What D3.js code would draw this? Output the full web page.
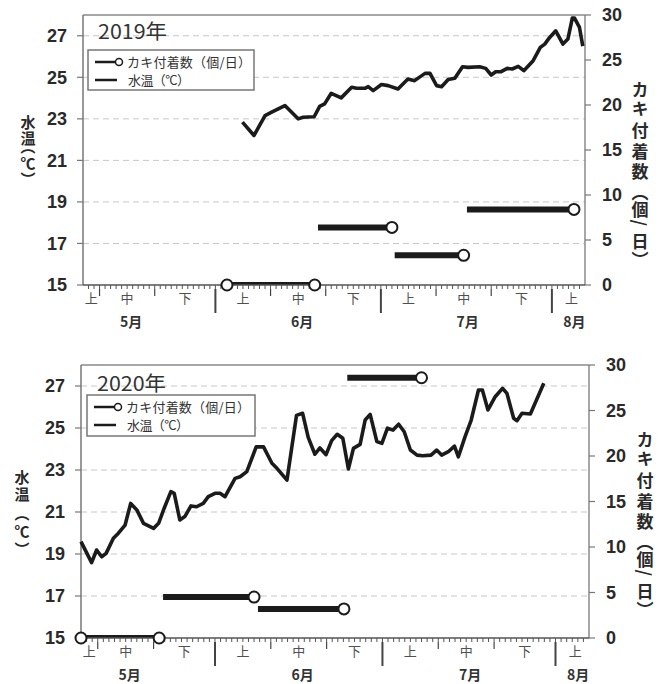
<!DOCTYPE html>
<html><head><meta charset="utf-8">
<script src="https://cdn.jsdelivr.net/npm/d3@7"></script>
<style>
html,body{margin:0;padding:0;background:#fff;}
svg{display:block;}
</style></head><body>
<svg id="chart" width="664" height="684"></svg>
<script>
// ---- data (days counted from May 1 = 0) ----
const leftTicks = [15, 17, 19, 21, 23, 25, 27];
const rightTicks = [0, 5, 10, 15, 20, 25, 30];
const periodLabels = ["上", "中", "下"];
const monthLabels = ["5月", "6月", "7月", "8月"];
const monthStartDays = [0, 31, 61, 92, 123];
const yearTitles = ["2019年", "2020年"];
const legendLabels = ["カキ付着数（個/日）", "水温（°C）"];
const leftTitle = "水温（℃）";
const rightTitle = "カキ付着数（個/日）";

const temp2019Day = [35.9, 38.0, 40.0, 41.2, 43.6, 46.0, 46.9, 48.9, 49.9, 50.8, 52.0, 53.8, 55.7, 56.6, 58.1, 58.7, 59.6, 61.1, 62.3, 64.1, 65.9, 67.1, 69.0, 69.9, 71.1, 72.0, 73.2, 74.4, 75.8, 76.8, 78.9, 80.0, 81.0, 81.8, 82.8, 83.9, 84.8, 85.9, 86.9, 88.6, 89.9, 90.7, 91.6, 92.7, 94.0, 94.9, 95.7, 96.1, 97.0, 97.6];
const temp2019 = [22.84, 22.2, 23.16, 23.32, 23.64, 23.0, 23.08, 23.1, 23.6, 23.72, 24.23, 24.01, 24.52, 24.47, 24.47, 24.55, 24.36, 24.65, 24.6, 24.44, 24.92, 24.84, 25.19, 25.19, 24.6, 24.55, 24.89, 24.95, 25.51, 25.48, 25.51, 25.43, 25.11, 25.27, 25.27, 25.43, 25.40, 25.53, 25.32, 25.80, 26.44, 26.60, 26.92, 27.24, 26.60, 26.84, 27.85, 27.85, 27.4, 26.5];

const temp2020Day = [7.0, 8.9, 9.8, 10.7, 11.5, 12.8, 13.7, 14.9, 15.9, 17.0, 18.2, 20.0, 20.9, 21.9, 23.1, 23.7, 24.7, 25.6, 26.7, 27.7, 28.9, 29.8, 31.0, 31.9, 32.8, 34.6, 35.5, 36.7, 38.4, 39.7, 41.2, 42.1, 43.9, 45.6, 46.7, 47.7, 48.9, 49.8, 50.9, 51.9, 52.9, 53.9, 54.9, 55.8, 57.0, 57.9, 58.8, 60.0, 60.9, 61.9, 62.9, 63.9, 64.9, 66.0, 67.2, 68.2, 69.7, 70.7, 71.6, 72.8, 73.9, 74.6, 75.8, 76.9, 78.2, 78.9, 79.9, 81.2, 82.5, 83.3, 84.5, 85.1, 86.0, 87.5, 89.9];
const temp2020 = [19.59, 18.59, 19.19, 18.87, 19.03, 19.75, 19.99, 20.38, 21.41, 21.1, 20.46, 20.22, 20.46, 21.18, 21.97, 21.89, 20.62, 20.78, 21.29, 21.25, 21.41, 21.73, 21.89, 21.89, 21.73, 22.60, 22.68, 22.92, 24.11, 24.10, 23.32, 23.08, 22.52, 25.6, 25.70, 24.55, 23.75, 24.05, 23.73, 24.4, 24.70, 24.51, 23.05, 24.03, 24.22, 25.38, 25.65, 24.35, 24.27, 24.99, 24.90, 25.18, 24.82, 23.95, 23.71, 23.68, 23.71, 23.95, 23.71, 23.87, 24.14, 23.63, 24.59, 25.38, 26.81, 26.81, 25.86, 26.49, 26.89, 26.65, 25.46, 25.35, 25.70, 25.67, 27.13];

const count2019Start = [33.1, 33.1, 49.6, 63.5, 76.6];
const count2019End   = [33.1, 49.0, 63.0, 76.0, 96.0];
const count2019Val   = [0, 0, 6.4, 3.3, 8.4];

const count2020Start = [7.0, 7.0, 21.7, 38.7, 54.7];
const count2020End   = [7.0, 21.0, 38.0, 54.1, 68.0];
const count2020Val   = [0, 0, 4.5, 3.2, 28.6];

// ---- layout ----
const panels = [
  { title: yearTitles[0], days: temp2019Day, temps: temp2019,
    cS: count2019Start, cE: count2019End, cV: count2019Val,
    left: 83, right: 585, top: 15, bottom: 285,
    legend: {x: 88, y: 50, w: 166, h: 40},
    titleXY: [98, 39],
    lTitle: {x: 28, c: [122, 138, 150, 163, 176]},
    rTitle: {x: 640, c0: 90} },
  { title: yearTitles[1], days: temp2020Day, temps: temp2020,
    cS: count2020Start, cE: count2020End, cV: count2020Val,
    left: 81, right: 589, top: 365, bottom: 638,
    legend: {x: 87, y: 395, w: 168, h: 41},
    titleXY: [97, 391],
    lTitle: {x: 22, c: [477, 494, 517, 531, 546]},
    rTitle: {x: 645, c0: 440} }
];
// glyph-centre offsets of the right title characters (layout)
const rTitleOffsets = [0, 19, 41, 62, 82, 107, 120, 138, 152, 165];
// where the ink of a vertical glyph sits inside its em box (fraction of em from top)
function inkCentre(ch) { return ch === "（" ? 0.75 : ch === "）" ? 0.25 : 0.5; }

const svg = d3.select("#chart");
const numFont = "'Liberation Sans', Arial, sans-serif";
const jpFont = "'Noto Sans CJK JP', 'Noto Sans', sans-serif";

function vText(g, str, x, centres, size) {
  const chars = [...str];
  const ys = chars.map((ch, i) => (centres[i] - inkCentre(ch) * size).toFixed(1));
  return g.append("text")
    .attr("x", x).attr("y", ys.join(" "))
    .attr("text-anchor", "start")
    .style("writing-mode", "vertical-rl")
    .attr("font-family", jpFont).attr("font-weight", "bold")
    .attr("font-size", size).attr("fill", "#2a2a2a")
    .text(str);
}

panels.forEach((p, pi) => {
  const g = svg.append("g");
  const x = d3.scaleLinear().domain([7, 98]).range([p.left, p.right]);
  const yL = d3.scaleLinear().domain([15, 28]).range([p.bottom, p.top]);
  const yR = d3.scaleLinear().domain([0, 30]).range([p.bottom, p.top]);

  // gridlines
  g.selectAll(".grid").data(leftTicks.filter(t => t > 15)).join("line")
    .attr("x1", p.left).attr("x2", p.right)
    .attr("y1", d => yL(d)).attr("y2", d => yL(d))
    .attr("stroke", "#c8c8c8").attr("stroke-width", 1)
    .attr("stroke-dasharray", "6,4");

  // frame
  g.append("line").attr("x1", p.left).attr("x2", p.right).attr("y1", p.top).attr("y2", p.top)
    .attr("stroke", "#8a8a8a").attr("stroke-width", 1.5);
  g.append("line").attr("x1", p.right).attr("x2", p.right).attr("y1", p.top).attr("y2", p.bottom)
    .attr("stroke", "#8a8a8a").attr("stroke-width", 1.5);
  g.append("line").attr("x1", p.left).attr("x2", p.left).attr("y1", p.top).attr("y2", p.bottom)
    .attr("stroke", "#777").attr("stroke-width", 1.5);

  // left axis
  g.selectAll(".lt").data(leftTicks).join("line")
    .attr("x1", p.left - 6).attr("x2", p.left)
    .attr("y1", d => yL(d)).attr("y2", d => yL(d))
    .attr("stroke", "#777").attr("stroke-width", 1.2);
  g.selectAll(".ll").data(leftTicks).join("text")
    .attr("x", p.left - 16).attr("y", d => yL(d)).attr("dy", "0.36em")
    .attr("text-anchor", "end").attr("font-family", numFont)
    .attr("font-weight", "bold").attr("font-size", 18).attr("fill", "#2a2a2a")
    .text(d => d);

  // right axis
  g.selectAll(".rt").data(rightTicks).join("line")
    .attr("x1", p.right).attr("x2", p.right + 6)
    .attr("y1", d => yR(d)).attr("y2", d => yR(d))
    .attr("stroke", "#777").attr("stroke-width", 1.2);
  g.selectAll(".rl").data(rightTicks).join("text")
    .attr("x", p.right + 17).attr("y", d => yR(d)).attr("dy", "0.36em")
    .attr("text-anchor", "start").attr("font-family", numFont)
    .attr("font-weight", "bold").attr("font-size", 18).attr("fill", "#2a2a2a")
    .text(d => d);

  // temperature line
  const pts = p.days.map((d, i) => [d, p.temps[i]]);
  g.append("path").datum(pts)
    .attr("d", d3.line().x(d => x(d[0])).y(d => yL(d[1])))
    .attr("fill", "none").attr("stroke", "#1b1b1b").attr("stroke-width", 3.6)
    .attr("stroke-linejoin", "round").attr("stroke-linecap", "butt");

  // count bars (clipped to plot area)
  const clipId = "clip" + pi;
  svg.append("clipPath").attr("id", clipId).append("rect")
    .attr("x", p.left).attr("y", p.top).attr("width", p.right - p.left).attr("height", p.bottom - p.top);
  const segs = p.cS.map((s, i) => ({s: s, e: p.cE[i], v: p.cV[i]}));
  g.append("g").attr("clip-path", `url(#${clipId})`)
    .selectAll("line").data(segs.filter(d => d.e > d.s)).join("line")
    .attr("x1", d => x(d.s)).attr("x2", d => x(d.e))
    .attr("y1", d => yR(d.v)).attr("y2", d => yR(d.v))
    .attr("stroke", "#1b1b1b").attr("stroke-width", 6);

  // bottom axis
  g.append("line").attr("x1", p.left).attr("x2", p.right).attr("y1", p.bottom).attr("y2", p.bottom)
    .attr("stroke", "#555").attr("stroke-width", 1.5);
  g.selectAll(".dt").data(d3.range(8, 98)).join("line")
    .attr("x1", d => x(d)).attr("x2", d => x(d))
    .attr("y1", p.bottom).attr("y2", p.bottom + 4)
    .attr("stroke", "#555").attr("stroke-width", 1);
  const periods = [];
  monthStartDays.slice(0, 4).forEach((ms, mi) => {
    const next = monthStartDays[mi + 1];
    [[ms, ms + 10], [ms + 10, ms + 20], [ms + 20, next]].forEach((r, k) => {
      periods.push({a: r[0], b: r[1], k: k, m: mi});
    });
  });
  const dom = x.domain();
  const visible = periods.filter(q => q.b > dom[0] && q.a < dom[1]);
  const inner = [];
  visible.forEach(q => { if (q.a > dom[0]) inner.push({d: q.a, month: q.k === 0}); });
  g.selectAll(".pt").data(inner).join("line")
    .attr("x1", d => x(d.d)).attr("x2", d => x(d.d))
    .attr("y1", p.bottom + 4).attr("y2", d => p.bottom + (d.month ? 28 : 11))
    .attr("stroke", "#444").attr("stroke-width", d => d.month ? 2 : 1.2);
  const mid = q => x((Math.max(q.a, dom[0]) + Math.min(q.b, dom[1])) / 2);
  g.append("g").style("opacity", 0.999)
    .selectAll(".pl").data(visible).join("text")
    .attr("x", q => mid(q) + (q.m === 3 ? 3 : 0))
    .attr("y", p.bottom + 13).attr("dy", "0.35em")
    .attr("text-anchor", "middle").attr("font-family", jpFont)
    .attr("font-size", 13).attr("fill", "#505050")
    .text(q => periodLabels[q.k]);
  const monthPos = monthLabels.map((m, mi) => {
    const ps = visible.filter(q => q.m === mi);
    const c = ps.find(q => q.k === 1) || ps[0];
    return {m: m, xx: mid(c) + (mi === 3 ? 6 : 4)};
  });
  g.selectAll(".ml").data(monthPos).join("text")
    .attr("x", d => d.xx).attr("y", p.bottom + 37).attr("dy", "0.35em")
    .attr("text-anchor", "middle").attr("font-family", jpFont)
    .attr("font-weight", "bold").attr("font-size", 14).attr("fill", "#333")
    .text(d => d.m);

  // circles at retrieval ends
  g.selectAll(".cc").data(segs).join("circle")
    .attr("cx", d => x(d.e)).attr("cy", d => yR(d.v)).attr("r", 5.5)
    .attr("fill", "#fff").attr("stroke", "#1b1b1b").attr("stroke-width", 2);

  // year title
  g.append("text").attr("x", p.titleXY[0]).attr("y", p.titleXY[1])
    .attr("font-family", jpFont).attr("font-size", 20).attr("fill", "#333")
    .attr("textLength", 69).attr("lengthAdjust", "spacingAndGlyphs")
    .text(p.title);

  // legend
  const L = p.legend;
  const lg = g.append("g");
  lg.append("rect").attr("x", L.x).attr("y", L.y).attr("width", L.w).attr("height", L.h)
    .attr("fill", "#fff").attr("stroke", "#777").attr("stroke-width", 1.5);
  const r1 = L.y + 12, r2 = L.y + 30;
  lg.append("line").attr("x1", L.x + 7).attr("x2", L.x + 28).attr("y1", r1).attr("y2", r1)
    .attr("stroke", "#1b1b1b").attr("stroke-width", 2.5);
  lg.append("circle").attr("cx", L.x + 31).attr("cy", r1).attr("r", 3.5)
    .attr("fill", "#fff").attr("stroke", "#1b1b1b").attr("stroke-width", 1.5);
  lg.append("line").attr("x1", L.x + 7).attr("x2", L.x + 29).attr("y1", r2).attr("y2", r2)
    .attr("stroke", "#1b1b1b").attr("stroke-width", 2.5);
  lg.append("text").attr("x", L.x + 39).attr("y", r1).attr("dy", "0.36em")
    .attr("font-family", jpFont).attr("font-size", 13).attr("fill", "#333")
    .attr("textLength", 124).attr("lengthAdjust", "spacing")
    .text(legendLabels[0]);
  lg.append("text").attr("x", L.x + 40).attr("y", r2).attr("dy", "0.36em")
    .attr("font-family", jpFont).attr("font-size", 13).attr("fill", "#333")
    .attr("textLength", 62).attr("lengthAdjust", "spacing")
    .text(legendLabels[1]);

  // vertical axis titles
  vText(g, leftTitle, p.lTitle.x, p.lTitle.c, 15);
  vText(g, rightTitle, p.rTitle.x, rTitleOffsets.map(o => p.rTitle.c0 + o), 17);
});
</script>
</body></html>
